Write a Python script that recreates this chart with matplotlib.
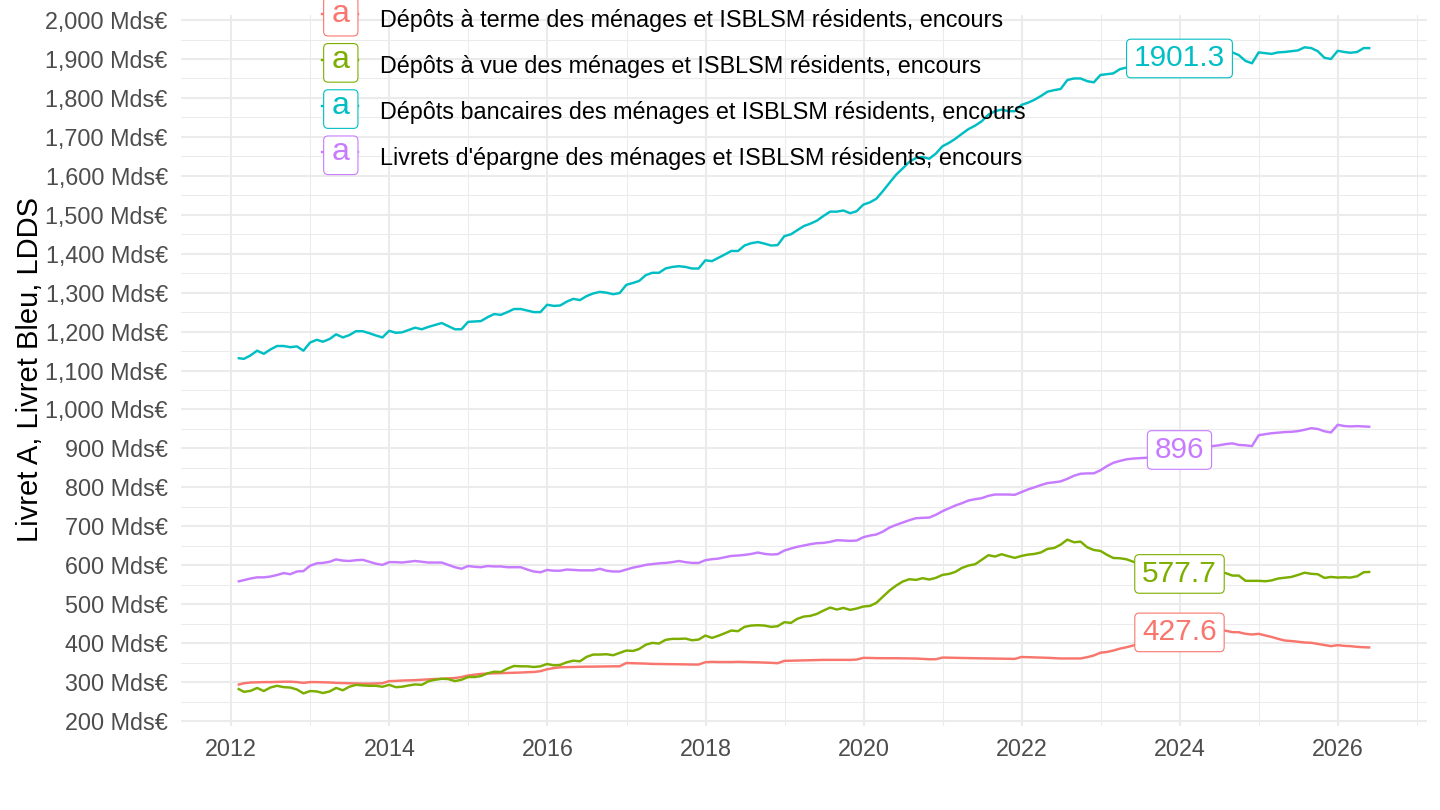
import numpy as np
import pandas as pd
import matplotlib
matplotlib.use("Agg")
import matplotlib.pyplot as plt
import matplotlib.dates as mdates
from matplotlib.ticker import MultipleLocator, FuncFormatter
from matplotlib.patches import BoxStyle
from matplotlib.lines import Line2D

plt.rcParams['font.family'] = ['Liberation Sans', 'DejaVu Sans']

# ---------------- data (Mds€, monthly, from Jan 2012) ----------------
series_names = [
    "Dépôts à terme des ménages et ISBLSM résidents, encours",
    "Dépôts à vue des ménages et ISBLSM résidents, encours",
    "Dépôts bancaires des ménages et ISBLSM résidents, encours",
    "Livrets d'épargne des ménages et ISBLSM résidents, encours",
]
series_colors = ["#F8766D", "#7CAE00", "#00BFC4", "#C77CFF"]

depots_terme = [
    293, 297, 299, 299.5, 300, 300, 300.5, 301, 301, 300, 298, 300,
    300, 299.5, 299, 298, 297.5, 297, 296.5, 296, 296, 296.5, 297, 302.5,
    303, 304, 304.5, 305, 306, 307, 308, 308.5, 309.5, 310.5, 313, 317,
    319, 321, 322, 322.5, 323, 323.5, 324, 324.5, 325.5, 326, 328, 333,
    336, 338, 338.5, 339, 339.5, 339.7, 339.7, 340, 340.5, 340.5, 340.5, 349,
    348.5, 348, 347.5, 346.7, 346.5, 346.5, 346, 346, 345.5, 345.1, 345.1, 351,
    352, 351.5, 351.5, 351.5, 352, 351.5, 351.1, 350.8, 350.2, 349.5, 348.5, 354.5,
    355, 355.4, 356, 356.2, 356.6, 357.1, 357.1, 357.1, 357.1, 357.1, 357.9, 362.2,
    362, 361.5, 361.3, 361.3, 361.3, 361, 360.5, 360.5, 359.5, 358.7, 358.7, 363,
    362.6, 362.2, 362, 361.5, 361.3, 361, 360.5, 360.5, 360, 359.6, 359.6, 364.5,
    364, 363.5, 363, 362.4, 361.5, 360.7, 360.7, 360.7, 360.7, 364, 368.4, 375.5,
    377.5, 381, 386, 389.5, 394, 398, 402, 406, 411, 416, 422, 427.6,
    431, 433, 434, 434, 433.5, 433, 432, 428.2, 428, 424, 422.2, 423.9,
    419.7, 416, 411, 406.8, 405.5, 403.5, 401.7, 400.9, 398, 395, 392.3, 394.9,
    393, 392.3, 390.5, 389.5, 388.9,
]

depots_vue = [
    283.6, 275, 277.6, 285, 277, 286, 290.5, 287, 286, 281, 271, 277,
    276, 272, 276, 285, 279, 288, 293, 291.4, 290.5, 290.5, 288, 293,
    287, 288, 291.4, 294, 293, 302, 306, 308.6, 307.8, 302.6, 306, 313,
    313, 315.5, 322.4, 326.7, 325.9, 334.5, 341.4, 340.5, 340.5, 338.8, 340.5, 346.6,
    343, 344, 351, 355, 353.4, 364.7, 370.7, 370.7, 371.6, 369, 375, 381,
    380, 385, 396, 400.7, 399, 408.4, 411, 411, 411.8, 407.5, 409.2, 419.5,
    413.5, 418.7, 425.5, 432.4, 430.7, 441.8, 445.2, 446.1, 445.2, 441.8, 443.5, 453.8,
    452.1, 462.3, 468.3, 470, 475.2, 483.7, 491.4, 486.3, 490.6, 485.4, 488.9, 494,
    495.7, 503.4, 519.7, 535.1, 547.9, 558.2, 564.2, 562.5, 566.8, 563.4, 567.6, 575.3,
    577.9, 583, 593.3, 599.3, 602.7, 613.9, 625.9, 622.4, 628.4, 623.3, 619, 624,
    627.5, 629, 633, 642, 644.4, 653, 665.8, 659, 660.7, 646, 639.3, 636.8,
    626.5, 618.8, 618, 615.4, 609, 603, 598, 593, 589, 585, 581, 577.7,
    578, 579, 580, 580, 581, 581, 580, 573.5, 573.5, 560, 560, 560,
    559, 561, 566, 568, 570, 575, 581, 578, 577, 567.5, 570, 568.4,
    569.2, 568.4, 571.8, 582, 583,
]

depots_bancaires = [
    1132, 1130, 1139, 1151, 1143, 1154, 1163, 1163, 1160, 1162, 1151, 1172,
    1179, 1174, 1181, 1193, 1185, 1191, 1201, 1201, 1196, 1190, 1185, 1202,
    1197, 1198, 1204, 1210, 1206, 1212, 1217, 1222, 1214, 1206, 1206, 1225,
    1226, 1227, 1237, 1245, 1243, 1250, 1258, 1258, 1254, 1250, 1250, 1269,
    1266, 1267, 1277, 1284, 1281, 1291, 1298, 1302, 1300, 1296, 1299, 1320,
    1325, 1330, 1345, 1351, 1351, 1362, 1366, 1368, 1366, 1362, 1362, 1383,
    1381, 1389, 1398, 1407, 1407, 1421, 1427, 1430, 1426, 1421, 1422, 1445,
    1450, 1460, 1471, 1477, 1485, 1497, 1508, 1508, 1511, 1504, 1509, 1526,
    1532, 1541, 1561, 1582, 1603, 1619, 1636, 1646, 1648, 1644, 1657, 1676,
    1685, 1695, 1708, 1720, 1729, 1740, 1757, 1766, 1770, 1766, 1766, 1782,
    1788, 1795, 1805, 1816, 1820, 1823, 1846, 1850, 1850, 1843, 1840, 1859,
    1861, 1863, 1874, 1878, 1877, 1876, 1876, 1877, 1880, 1885, 1891, 1901.3,
    1908, 1914, 1918, 1919, 1920.5, 1922, 1923, 1917, 1910, 1895, 1889, 1917,
    1915, 1913, 1917, 1918, 1920, 1922, 1930, 1928, 1920, 1903, 1900, 1921,
    1918, 1916, 1918, 1928, 1928,
]

livrets = [
    558, 562, 566, 569, 569, 571, 575, 580, 577, 584, 585, 599,
    605, 606, 609, 615, 612, 611, 613, 614, 609, 604, 601, 608,
    608, 607, 609, 611, 609, 607, 607, 607, 601, 595, 591, 598,
    596, 595, 598, 597, 597, 595, 595, 595, 589, 584, 582, 588,
    586, 586, 589, 588, 587, 587, 587, 591, 586, 584, 584, 589,
    594, 597, 601, 603, 605, 606, 608, 611, 608, 606, 606, 613,
    615.6, 617, 620.5, 624, 625, 626.7, 629, 632.7, 629.3, 627.6, 628.4, 637.8,
    643, 647.3, 650.7, 654.1, 656.7, 657.5, 660.1, 664.4, 663.5, 662.7, 663.5, 672,
    676.4, 678.9, 686.6, 696.9, 703.8, 709.8, 715.8, 720.9, 721.8, 722.6, 729.5, 738.9,
    746.6, 753.4, 759.4, 766.3, 769.7, 772.3, 778.3, 781.7, 781.7, 781.7, 780.8, 788,
    795, 800, 806, 811, 813, 815.4, 822, 830, 835, 835.9, 836, 844,
    855, 863, 868, 872, 874, 875, 876, 878, 880, 884, 888, 896,
    899, 902, 904, 905, 906, 908, 911, 913, 909, 908, 906, 934,
    936.5, 939, 940.5, 942, 942.7, 944.4, 947.9, 952, 950, 944, 941, 960.7,
    957.5, 956.5, 957.3, 956.5, 955.6,
]

all_series = [depots_terme, depots_vue, depots_bancaires, livrets]

# labelled values (at Dec 2023)
label_index = 143
label_values = [427.6, 577.7, 1901.3, 896]

y_ticks = list(range(200, 2001, 100))

# ---------------- figure ----------------
W, H = 1440, 810
fig = plt.figure(figsize=(W / 100, H / 100), dpi=100)
ax = fig.add_axes([181 / W, 1 - 725.7 / H, (1427 - 181) / W, (725.7 - 15) / H])


def fixed_box(pad_x=None, width_px=None, height_px=38.6, r_px=4.5, dy_em=0.0):
    def box(x0, y0, width, height, mutation_size):
        cx = x0 + width / 2.0
        cy = y0 + height / 2.0 - dy_em * mutation_size
        w = width_px if width_px is not None else width + 2 * pad_x
        h = height_px
        style = BoxStyle.Round(pad=0.0, rounding_size=r_px / mutation_size)
        return style(cx - w / 2.0, cy - h / 2.0, w, h, mutation_size)
    return box


for vals, col in zip(all_series, series_colors):
    dates = pd.date_range("2012-01-31", periods=len(vals), freq="ME")
    ax.plot(dates, vals, color=col, lw=1.75, solid_capstyle="butt", zorder=3)

ax.margins(x=0.05, y=0.05)

for vals, lv, col in zip(all_series, label_values, series_colors):
    dates = pd.date_range("2012-01-31", periods=len(vals), freq="ME")
    ax.text(dates[label_index], lv, f"{lv:g}", ha="center", va="center",
            color=col, fontsize=21.5, zorder=6,
            bbox=dict(boxstyle=fixed_box(pad_x=7.3), fc="white", ec=col, lw=0.8))

# axes styling (ggplot theme_minimal look)
for s in ax.spines.values():
    s.set_visible(False)
ax.xaxis.set_major_locator(mdates.YearLocator(2))
ax.xaxis.set_minor_locator(mdates.YearLocator(1))
ax.xaxis.set_major_formatter(mdates.DateFormatter("%Y"))
ax.yaxis.set_major_locator(MultipleLocator(100))
ax.yaxis.set_minor_locator(MultipleLocator(50))
ax.set_yticks(y_ticks)
ax.yaxis.set_major_formatter(FuncFormatter(lambda v, p: f"{int(round(v)):,} Mds€"))
ax.grid(which="major", color="#EBEBEB", lw=1.5, zorder=0)
ax.grid(which="minor", color="#EBEBEB", lw=0.75, zorder=0)
ax.set_axisbelow(True)
ax.tick_params(which="both", length=0)
ax.tick_params(axis="x", labelsize=16.8, labelcolor="#4D4D4D", pad=8.5)
ax.tick_params(axis="y", labelsize=16.8, labelcolor="#4D4D4D", pad=9.5)

fig.text(30 / W, 1 - 370 / H, "Livret A, Livret Bleu, LDDS", rotation=90,
         ha="center", va="center", fontsize=21, color="black")

# legend (inside, top-left) with label-style keys
key_cx = 340.8
key_cy = [13.8, 60.0, 106.2, 152.4]
text_base = [27.0, 73.0, 119.0, 165.0]
for name, col, kcy, tb in zip(series_names, series_colors, key_cy, text_base):
    fig.add_artist(Line2D([322 / W, 358 / W], [1 - kcy / H, 1 - kcy / H],
                          color=col, lw=1.7, zorder=7))
    fig.text(key_cx / W, 1 - kcy / H, "a", ha="center", va="center", color=col,
             fontsize=23, zorder=8,
             bbox=dict(boxstyle=fixed_box(width_px=34.3, height_px=38.6, dy_em=0.09),
                       fc="white", ec=col, lw=0.8))
    fig.text(380 / W, 1 - tb / H, name, ha="left", va="baseline",
             fontsize=16.8, color="black", zorder=8)

fig.savefig("out.png", dpi=100, facecolor="white")
